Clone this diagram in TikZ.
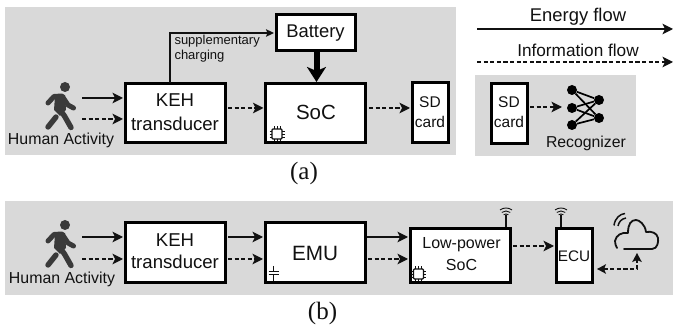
\documentclass[tikz,border=0pt]{standalone}
\usepackage{fontspec}
\setmainfont{Liberation Sans}
\newfontfamily\capfont{Liberation Serif}
\usetikzlibrary{arrows.meta,positioning,calc}
\definecolor{panel}{HTML}{D9D9D9}
\definecolor{ink}{HTML}{111111}
\definecolor{fig}{HTML}{3A3A3A}
\newcommand{\fs}[1]{\fontsize{#1}{#1}\selectfont}
\tikzset{
  x=1pt,y=-1pt,
  panelbg/.style={fill=panel,draw=none},
  bx/.style={draw=black,fill=white,line width=3pt,inner sep=0pt,outer sep=0pt,align=center,text=ink},
  lbl/.style={inner sep=0pt,outer sep=0pt,align=center,text=ink},
  flow/.style={draw=ink,line width=1.4pt,-{Stealth[length=10.5pt,width=10.5pt,inset=2.5pt]}},
  info/.style={flow,dash pattern=on 4.2pt off 2.4pt},
  tobox/.style={shorten >=2pt},
  thick arrow/.style={draw=black,line width=6pt,-{Stealth[length=15pt,width=19pt,inset=4pt]},shorten >=2pt},
  netdot/.style={circle,fill=black,inner sep=0pt,minimum size=10pt},
  netline/.style={draw=black,line width=1.7pt},
  chip/.pic={
    \draw[ink,line width=1.1pt,rounded corners=1pt,fill=white] (-5,-5) rectangle (5,5);
    \foreach \t in {-3,0,3}{
      \draw[ink,line width=.6pt] (\t,-7.5) -- (\t,-5) (\t,5) -- (\t,7.5) (-7.5,\t) -- (-5,\t) (5,\t) -- (7.5,\t);}
  },
  antenna/.pic={
    \draw[ink,line width=1.4pt] (0,0) -- (0,-12);
    \draw[ink,line width=.9pt] (-2.4,-12.2) .. controls (-1,-13.3) and (1,-13.3) .. (2.4,-12.2);
    \draw[ink,line width=.9pt] (-4.2,-14.6) .. controls (-1.7,-16.5) and (1.7,-16.5) .. (4.2,-14.6);
    \draw[ink,line width=.9pt] (-6,-17) .. controls (-2.5,-19.7) and (2.5,-19.7) .. (6,-17);
  },
  walker/.pic={
    \fill[fig] (65,87) circle (5);
    \draw[fig,line width=5pt,line cap=round,line join=round] (48,103) -- (54,96.5) -- (62,96) -- (68,105) -- (73.5,108);
    \fill[fig] (55,96) -- (65,95) -- (66,110) -- (60,116) -- (54,110) -- cycle;
    \draw[fig,line width=5.4pt,line cap=round,line join=round] (60,110) -- (64.5,116) -- (71,127.5);
    \draw[fig,line width=5.4pt,line cap=round,line join=round] (56,117) -- (48,127);
  },
}
\begin{document}
\begin{tikzpicture}
\useasboundingbox (0,0) rectangle (673,331);
% panels
\fill[panelbg] (5,7) rectangle (456,155.5);
\fill[panelbg] (475,75) rectangle (636,156);
\fill[panelbg] (5,201) rectangle (673,295);

% ---- (a)
\pic at (0,0) {walker};
\node[lbl,font=\fs{15.9}] (ha) at (61,140) {Human Activity};
\node[bx,minimum width=100pt,minimum height=59pt] (keh) at (175,113.5) {};
\node[lbl,font=\fs{18.6}] (kehA) at (175,100.5) {KEH};
\node[lbl,font=\fs{18.6}] (kehB) at (175,123.5) {transducer};
\node[bx,minimum width=79pt,minimum height=36pt,font=\fs{18.4}] (bat) at (315.5,33) {Battery};
\node[bx,minimum width=100pt,minimum height=59pt] (soc) at (315.5,113.5) {};
\node[lbl,font=\fs{20.5}] (socT) at (316,112.5) {SoC};
\node[bx,minimum width=36pt,minimum height=60pt] (sd) at (430,113) {};
\node[lbl,font=\fs{15.5}] (sdA) at (430,102.5) {SD};
\node[lbl,font=\fs{15.5}] (sdB) at (430,122) {card};
\pic at (277,134) {chip};
\coordinate (inA) at (82,98);
\coordinate (inB) at (82,119);
\draw[flow,tobox] (inA) -- (inA -| keh.west);
\draw[info,tobox] (inB) -- (inB -| keh.west);
\coordinate (chg) at (170,83);
\draw[flow,tobox,line width=1.2pt,-{Stealth[length=8pt,width=7.5pt,inset=1.5pt]}] (chg) |- (bat.west);
\node[lbl,font=\fs{13},anchor=west] (sup1) at (174.5,41) {supplementary};
\node[lbl,font=\fs{13},anchor=west] (sup2) at (174.5,56.5) {charging};
\draw[thick arrow] ([xshift=1pt]bat.south) -- ([xshift=1pt]soc.north);
\coordinate (m1) at (228,108);
\draw[info,tobox] (m1) -- (m1 -| soc.west);
\coordinate (m2) at (369,108);
\draw[info,tobox] (m2) -- (m2 -| sd.west);
\node[lbl,font=\fs{25}\capfont] (capa) at (304,173.5) {(a)};

% ---- legend
\node[lbl,font=\fs{18.4}] (lE) at (578,17) {Energy flow};
\coordinate (eS) at (477,29);
\coordinate (eT) at (673,29);
\draw[flow] (eS) -- (eT);
\node[lbl,font=\fs{17.2}] (lI) at (578,50) {Information flow};
\coordinate (iS) at (477,62);
\coordinate (iT) at (673,62);
\draw[info] (iS) -- (iT);
\node[bx,minimum width=36pt,minimum height=60pt] (sd2) at (509,113.5) {};
\node[lbl,font=\fs{15.5}] (sd2A) at (509,102.5) {SD};
\node[lbl,font=\fs{15.5}] (sd2B) at (509,122) {card};
\node[netdot] (n1) at (572,90) {};
\node[netdot] (n2) at (572,108) {};
\node[netdot] (n3) at (572,125) {};
\node[netdot] (n4) at (599,100) {};
\node[netdot] (n5) at (599,118) {};
\foreach \a in {n1,n2,n3}\foreach \b in {n4,n5}{\draw[netline] (\a) -- (\b);}
\coordinate (d1) at (530,107);
\coordinate (d2) at (562,107);
\draw[info] (d1) -- (d2);
\node[lbl,font=\fs{15.8}] (rec) at (586,143) {Recognizer};

% ---- (b)
\begin{scope}[yshift=-138pt]
\pic at (0,0) {walker};
\end{scope}
\node[lbl,font=\fs{15.9}] (hb) at (62,279) {Human Activity};
\node[bx,minimum width=100pt,minimum height=60pt] (keh2) at (175,253) {};
\node[lbl,font=\fs{18.6}] (keh2A) at (175,240) {KEH};
\node[lbl,font=\fs{18.6}] (keh2B) at (175,262) {transducer};
\node[bx,minimum width=100pt,minimum height=60pt,font=\fs{20.7}] (emu) at (315,253) {EMU};
\node[bx,minimum width=100pt,minimum height=54pt] (lp) at (460,256) {};
\node[lbl,font=\fs{16}] (lpA) at (461.5,245) {Low-power};
\node[lbl,font=\fs{16}] (lpB) at (461.5,265) {SoC};
\node[bx,minimum width=36pt,minimum height=54pt,font=\fs{15.3}] (ecu) at (574,256) {ECU};
\pic at (418.5,274) {chip};
\draw[ink,line width=.7pt] (273.5,266) -- (273.5,271.5) (268.5,271.5) -- (278.5,271.5)
  (268.5,274.5) -- (278.5,274.5) (273.5,274.5) -- (273.5,281);
\pic at (506,227) {antenna};
\pic at (561,227) {antenna};
\coordinate (bA) at (82,237);
\coordinate (bB) at (82,259);
\draw[flow,tobox] (bA) -- (bA -| keh2.west);
\draw[info,tobox] (bB) -- (bB -| keh2.west);
\coordinate (cA) at (228,237);
\coordinate (cB) at (228,259);
\draw[flow,tobox] (cA) -- (cA -| emu.west);
\draw[info,tobox] (cB) -- (cB -| emu.west);
\coordinate (eA) at (367,237);
\coordinate (eB) at (368,259);
\draw[flow,tobox] (eA) -- (eA -| lp.west);
\draw[info,tobox] (eB) -- (eB -| lp.west);
\coordinate (lA) at (513,246);
\draw[info,tobox] (lA) -- (lA -| ecu.west);
% cloud
\draw[ink,line width=1.8pt,line cap=round,line join=round]
  (624,249) -- (652,249)
  .. controls (658,249) and (658.5,241) .. (658,238)
  .. controls (657,233) and (652,231) .. (646,232)
  .. controls (645,224) and (639,220) .. (636,220)
  .. controls (631,220) and (628,224) .. (628,233)
  .. controls (622,232) and (616,235) .. (615,241)
  .. controls (615,244) and (616,246) .. (617,248);
\draw[ink,line width=1.5pt] (614,225.5) .. controls (615,218) and (620,214) .. (625,213.5);
\draw[ink,line width=1.5pt] (618,226) .. controls (619,222) and (621,219) .. (626,218);
\coordinate (cloudb) at (637,253);
\coordinate (corner) at (637,269);
\coordinate (ecuin) at (597,269);
\draw[info,{Stealth[length=9pt,width=9.5pt,inset=2pt]}-{Stealth[length=9pt,width=9.5pt,inset=2pt]}] (ecuin) -- (corner) -- (cloudb);
\node[lbl,font=\fs{25}\capfont] (capb) at (322.5,313.5) {(b)};
\end{tikzpicture}
\end{document}
